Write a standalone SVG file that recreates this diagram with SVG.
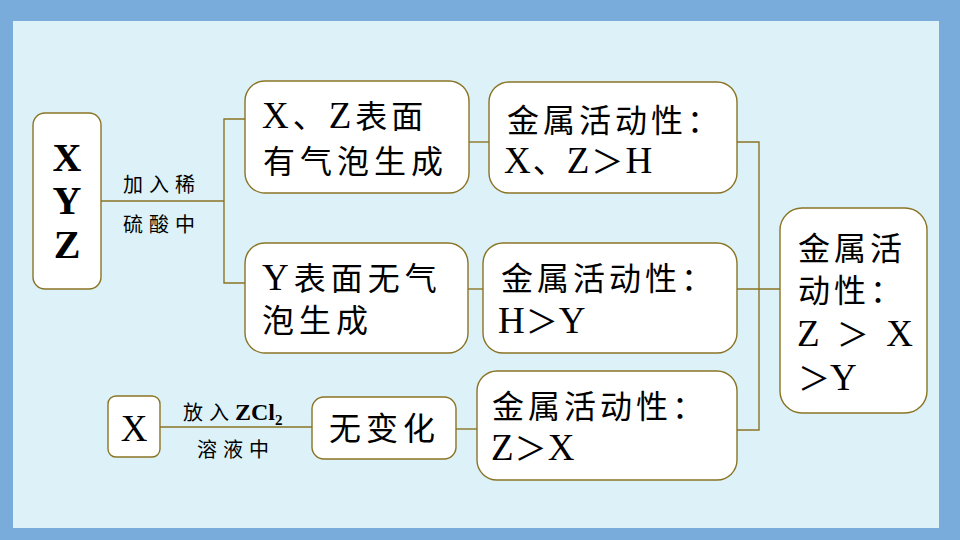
<svg xmlns="http://www.w3.org/2000/svg" width="960" height="540" viewBox="0 0 960 540">
<style>
.box{fill:#ffffff;stroke:#8a7424;stroke-width:1.4}
.ln{fill:none;stroke:#8a7424;stroke-width:1.4}
.t{font-family:"Liberation Serif","Noto Sans CJK SC",serif;font-size:32px;fill:#000}
.s{font-family:"Liberation Serif","Noto Sans CJK SC",serif;font-size:20px;fill:#000;letter-spacing:6px}
.b{font-weight:bold}
.L{font-size:37px}
.big{font-size:40px;font-weight:bold}
</style>
<rect x="0" y="0" width="960" height="540" fill="#79acdb"/>
<rect x="13" y="21" width="926" height="507" fill="#dcf2f8"/>
<g id="connectors">
<polyline class="ln" points="101,201 224,201"/>
<polyline class="ln" points="245,119 224,119 224,283 245,283"/>
<polyline class="ln" points="469,142 489,142"/>
<polyline class="ln" points="468,289 483,289"/>
<polyline class="ln" points="737,142 759,142 759,430 737,430"/>
<polyline class="ln" points="737,289 780,289"/>
<polyline class="ln" points="160,427 312,427"/>
<polyline class="ln" points="456,429 477,429"/>
</g>
<g id="n_xyz">
<rect class="box" x="33" y="113" width="68" height="176" rx="12"/>
<text class="t big" x="67" y="171" text-anchor="middle">X</text>
<text class="t big" x="67" y="214" text-anchor="middle">Y</text>
<text class="t big" x="67" y="258" text-anchor="middle">Z</text>
</g>
<g id="lbl_acid">
<text class="s" x="123" y="192">加入稀</text>
<text class="s" x="123" y="232">硫酸中</text>
</g>
<g id="n_xz">
<rect class="box" x="245" y="81" width="224" height="112" rx="20"/>
<text class="t" x="262" y="128" letter-spacing="4"><tspan class="L">X</tspan>、<tspan class="L">Z</tspan>表面</text>
<text class="t" x="263" y="173" letter-spacing="5">有气泡生成</text>
</g>
<g id="n_y">
<rect class="box" x="245" y="243" width="223" height="110" rx="20"/>
<text class="t" x="262" y="290" letter-spacing="5"><tspan class="L">Y</tspan>表面无气</text>
<text class="t" x="262" y="332" letter-spacing="5">泡生成</text>
</g>
<g id="n_act1">
<rect class="box" x="489" y="82" width="248" height="111" rx="20"/>
<text class="t" x="507" y="132" letter-spacing="4">金属活动性：</text>
<text class="t" x="504" y="173" letter-spacing="2"><tspan class="L">X</tspan>、<tspan class="L">Z</tspan>＞<tspan class="L">H</tspan></text>
</g>
<g id="n_act2">
<rect class="box" x="483" y="243" width="254" height="110" rx="20"/>
<text class="t" x="501" y="290" letter-spacing="4">金属活动性：</text>
<text class="t" x="498" y="333" letter-spacing="1"><tspan class="L">H</tspan>＞<tspan class="L">Y</tspan></text>
</g>
<g id="n_x">
<rect class="box" x="108" y="396" width="52" height="61" rx="8"/>
<text class="t L" x="134" y="441" text-anchor="middle">X</text>
</g>
<g id="lbl_zcl2">
<text class="s" x="183" y="420">放入<tspan class="b" style="letter-spacing:0;font-size:24px">ZCl</tspan><tspan class="b" style="letter-spacing:0;font-size:15px" dy="5">2</tspan></text>
<text class="s" x="197" y="457">溶液中</text>
</g>
<g id="n_nochange">
<rect class="box" x="312" y="397" width="144" height="62" rx="12"/>
<text class="t" x="329" y="440" letter-spacing="5">无变化</text>
</g>
<g id="n_act3">
<rect class="box" x="477" y="371" width="260" height="109" rx="20"/>
<text class="t" x="492" y="418" letter-spacing="4">金属活动性：</text>
<text class="t" x="491" y="460" letter-spacing="1"><tspan class="L">Z</tspan>＞<tspan class="L">X</tspan></text>
</g>
<g id="n_result">
<rect class="box" x="780" y="208" width="147" height="205" rx="22"/>
<text class="t" x="798" y="260" letter-spacing="4">金属活</text>
<text class="t" x="798" y="302" letter-spacing="4">动性：</text>
<text class="t" x="797" y="346" xml:space="preserve" letter-spacing="4"><tspan class="L">Z </tspan>＞<tspan class="L"> X</tspan></text>
<text class="t" x="798" y="390">＞<tspan class="L">Y</tspan></text>
</g>
</svg>
